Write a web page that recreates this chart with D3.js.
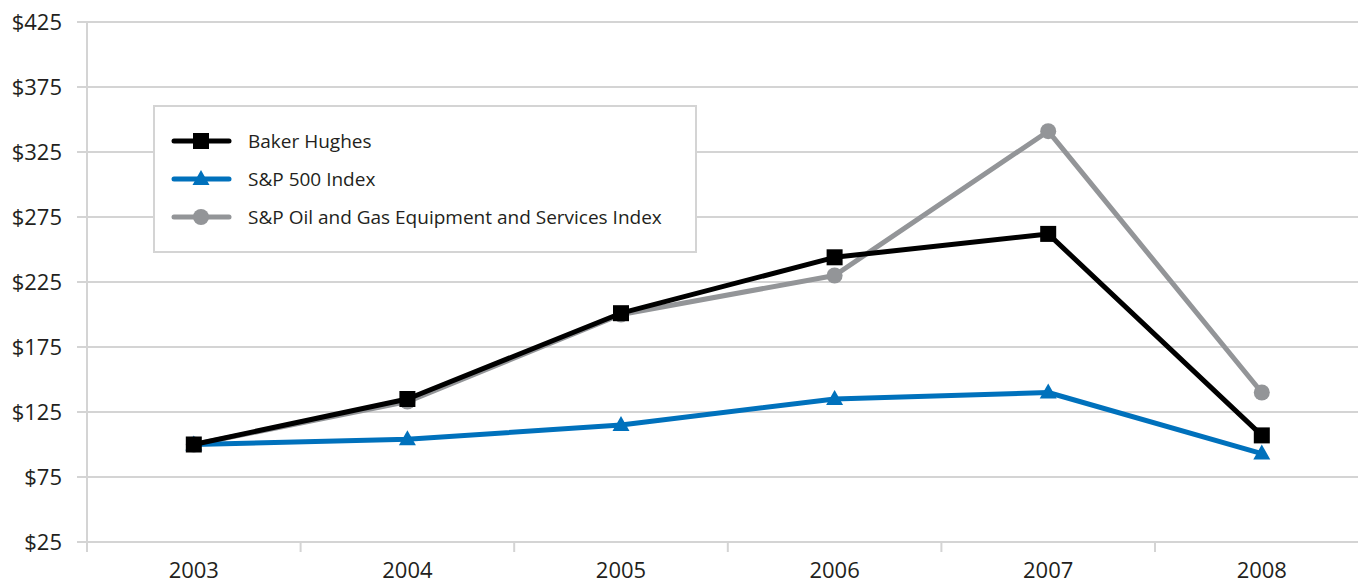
<!DOCTYPE html>
<html>
<head>
<meta charset="utf-8">
<script src="https://cdn.jsdelivr.net/npm/d3@7"></script>
<style>
  body { margin: 0; background: #fff; }
  svg { display: block; font-family: "Open Sans", "Noto Sans", sans-serif; }
</style>
</head>
<body>
<script>
var years = ["2003", "2004", "2005", "2006", "2007", "2008"];
var yTicks = [25, 75, 125, 175, 225, 275, 325, 375, 425];
var bakerHughes = [100, 135, 201, 244, 262, 107];
var sp500 = [100, 104, 115, 135, 140, 93];
var oilGas = [100, 133, 200, 230, 341, 140];

var series = [
  {name: "S&P Oil and Gas Equipment and Services Index", values: oilGas, color: "#939598", marker: "circle"},
  {name: "S&P 500 Index", values: sp500, color: "#0071bc", marker: "triangle"},
  {name: "Baker Hughes", values: bakerHughes, color: "#000000", marker: "square"}
];

var width = 1358, height = 584;
var svg = d3.select("body").append("svg").attr("width", width).attr("height", height);

var x = d3.scaleBand().domain(years).range([87, 1368.6]);
var y = d3.scaleLinear().domain([25, 425]).range([542, 22]);

// gridlines
svg.append("g").selectAll("line").data(yTicks).enter().append("line")
  .attr("x1", 77).attr("x2", width)
  .attr("y1", function(d) { return y(d); }).attr("y2", function(d) { return y(d); })
  .attr("stroke", "#d4d4d4").attr("stroke-width", 2);

// y axis line
svg.append("line").attr("x1", 87).attr("x2", 87).attr("y1", 22).attr("y2", 552)
  .attr("stroke", "#d4d4d4").attr("stroke-width", 2);

// x ticks between categories
var bounds = years.slice(1).map(function(d) { return x(d); });
svg.append("g").selectAll("line").data(bounds).enter().append("line")
  .attr("x1", function(d) { return d; }).attr("x2", function(d) { return d; })
  .attr("y1", 542).attr("y2", 552)
  .attr("stroke", "#d4d4d4").attr("stroke-width", 2);

// y labels
svg.append("g").selectAll("text").data(yTicks).enter().append("text")
  .attr("x", 62).attr("y", function(d) { return y(d); }).attr("dy", "0.35em")
  .attr("text-anchor", "end").attr("font-size", 22).attr("fill", "#231f20")
  .text(function(d) { return "$" + d; });

// x labels
svg.append("g").selectAll("text").data(years).enter().append("text")
  .attr("x", function(d) { return x(d) + x.bandwidth() / 2; }).attr("y", 578)
  .attr("text-anchor", "middle").attr("font-size", 22).attr("fill", "#231f20")
  .text(function(d) { return d; });

var cx = function(i) { return x(years[i]) + x.bandwidth() / 2; };
var line = d3.line().x(function(d, i) { return cx(i); }).y(function(d) { return y(d); });

function drawMarker(g, type, px, py, color) {
  if (type === "square") {
    g.append("rect").attr("x", px - 8).attr("y", py - 8).attr("width", 16).attr("height", 16).attr("fill", color);
  } else if (type === "circle") {
    g.append("circle").attr("cx", px).attr("cy", py).attr("r", 8).attr("fill", color);
  } else {
    g.append("path").attr("d", "M" + px + "," + (py - 9) + "L" + (px + 8.5) + "," + (py + 6) + "L" + (px - 8.5) + "," + (py + 6) + "Z").attr("fill", color);
  }
}

series.forEach(function(s) {
  var g = svg.append("g");
  g.append("path").datum(s.values).attr("d", line)
    .attr("fill", "none").attr("stroke", s.color).attr("stroke-width", 5).attr("stroke-linejoin", "round");
  s.values.forEach(function(v, i) { drawMarker(g, s.marker, cx(i), y(v), s.color); });
});

// legend
var legend = svg.append("g");
legend.append("rect").attr("x", 154).attr("y", 106).attr("width", 542).attr("height", 146)
  .attr("fill", "#fff").attr("stroke", "#d4d4d4").attr("stroke-width", 2);
series.slice().reverse().forEach(function(s, i) {
  var ly = 141 + i * 38;
  legend.append("line").attr("x1", 174).attr("x2", 229).attr("y1", ly).attr("y2", ly)
    .attr("stroke", s.color).attr("stroke-width", 5).attr("stroke-linecap", "round");
  drawMarker(legend, s.marker, 201, ly, s.color);
  legend.append("text").attr("x", 248).attr("y", ly).attr("dy", "0.35em")
    .attr("font-size", 19).attr("fill", "#231f20").text(s.name);
});
</script>
</body>
</html>
